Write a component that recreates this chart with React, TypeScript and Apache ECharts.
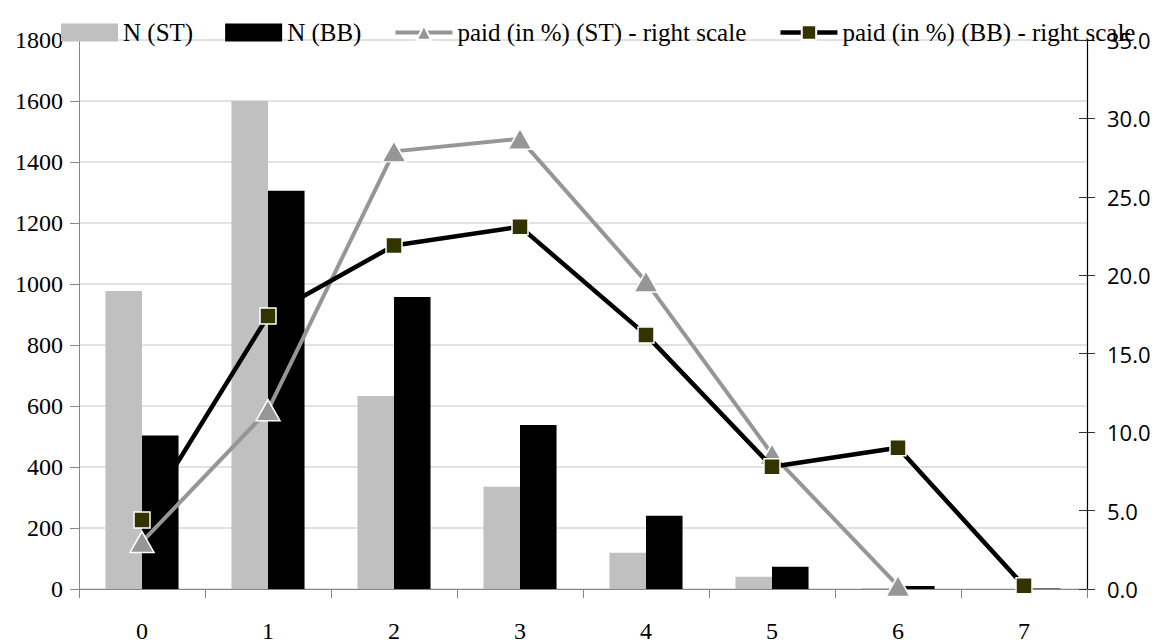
import React, { useEffect, useRef } from "react";
import * as echarts from "echarts";

const categories = ["0", "1", "2", "3", "4", "5", "6", "7"];
const nST = [977, 1600, 633, 335, 119, 40, 3, 0];
const nBB = [503, 1306, 957, 538, 240, 73, 10, 2];
const paidST: (number | null)[] = [3.0, 11.4, 27.9, 28.7, 19.6, 8.6, 0.2, null];
const paidBB = [4.4, 17.4, 21.9, 23.1, 16.2, 7.8, 9.0, 0.2];

const leftTicks = { min: 0, max: 1800, interval: 200 };
const rightTicks = { min: 0, max: 35, interval: 5 };

const serif = "Liberation Serif";
const sans = "Open Sans";

export default function App() {
  const ref = useRef<HTMLDivElement>(null);
  useEffect(() => {
    if (!ref.current) return;
    const chart = echarts.init(ref.current, null, { renderer: "svg" });
    chart.setOption({
      animation: false,
      backgroundColor: "#ffffff",
      textStyle: { fontFamily: serif },
      grid: { left: 79, right: 74, top: 40, bottom: 54, containLabel: false },
      legend: {
        left: 56,
        top: 15,
        itemWidth: 57,
        itemHeight: 18,
        itemGap: 32,
        textStyle: { fontFamily: serif, fontSize: 25, color: "#000" },
        data: [
          { name: "N (ST)", icon: "rect" },
          { name: "N (BB)", icon: "rect" },
          { name: "paid (in %) (ST) - right scale", lineStyle: { width: 4, color: "#969696" } },
          { name: "paid (in %) (BB) - right scale", lineStyle: { width: 4.5, color: "#000000" } },
        ],
      },
      xAxis: {
        type: "category",
        data: categories,
        boundaryGap: true,
        axisLine: { lineStyle: { color: "#868686", width: 1 } },
        axisTick: { show: true, length: 9, lineStyle: { color: "#868686" } },
        axisLabel: { fontFamily: serif, fontSize: 24, color: "#000", margin: 30 },
        splitLine: { show: false },
      },
      yAxis: [
        {
          type: "value",
          position: "left",
          ...leftTicks,
          axisLine: { show: true, lineStyle: { color: "#868686", width: 1 } },
          axisTick: { show: true, length: 9, lineStyle: { color: "#868686" } },
          axisLabel: {
            fontFamily: serif,
            fontSize: 24,
            color: "#000",
            margin: 16,
            formatter: (v: number) => String(v),
          },
          splitLine: { show: true, lineStyle: { color: "#d9d9d9", width: 1.5 } },
        },
        {
          type: "value",
          position: "right",
          ...rightTicks,
          axisLine: { show: true, lineStyle: { color: "#000", width: 1.2 } },
          axisTick: { show: true, length: 8, lineStyle: { color: "#333" } },
          axisLabel: {
            fontFamily: sans,
            fontSize: 22,
            color: "#000",
            margin: 20,
            formatter: (v: number) => v.toFixed(1),
          },
          splitLine: { show: false },
        },
        {
          type: "value",
          position: "right",
          ...rightTicks,
          axisLine: { show: false },
          axisTick: { show: true, inside: true, length: 8, lineStyle: { color: "#333" } },
          axisLabel: { show: false },
          splitLine: { show: false },
        },
      ],
      series: [
        {
          name: "N (ST)",
          type: "bar",
          data: nST,
          yAxisIndex: 0,
          barGap: "0%",
          barCategoryGap: "42%",
          itemStyle: { color: "#c0c0c0" },
          z: 1,
        },
        {
          name: "N (BB)",
          type: "bar",
          data: nBB,
          yAxisIndex: 0,
          barGap: "0%",
          barCategoryGap: "42%",
          itemStyle: { color: "#000000" },
          z: 1,
        },
        {
          name: "paid (in %) (ST) - right scale",
          type: "line",
          data: paidST,
          yAxisIndex: 1,
          connectNulls: false,
          symbol: "triangle",
          symbolSize: [24, 21],
          lineStyle: { color: "#969696", width: 4 },
          itemStyle: { color: "#969696", borderColor: "#ffffff", borderWidth: 1.5 },
          z: 3,
        },
        {
          name: "paid (in %) (BB) - right scale",
          type: "line",
          data: paidBB,
          yAxisIndex: 1,
          symbol: "rect",
          symbolSize: 16,
          lineStyle: { color: "#000000", width: 4.5 },
          itemStyle: { color: "#333300", borderColor: "#ffffff", borderWidth: 1.5 },
          z: 4,
        },
      ],
    });
    return () => chart.dispose();
  }, []);
  return (
    <div
      ref={ref}
      style={{ position: "fixed", left: 0, top: 0, width: 1161, height: 643, background: "#fff" }}
    />
  );
}
